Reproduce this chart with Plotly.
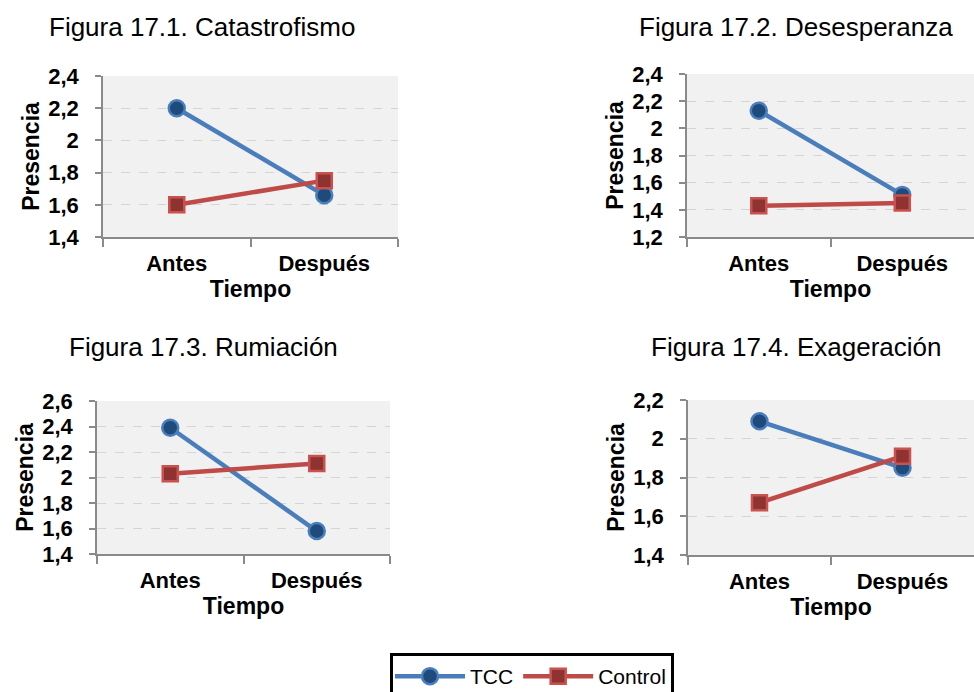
import plotly.graph_objects as go

# ---------------- data ----------------
categories = ["Antes", "Después"]

titles = [
    "Figura 17.1. Catastrofismo",
    "Figura 17.2. Desesperanza",
    "Figura 17.3. Rumiación",
    "Figura 17.4. Exageración",
]

tcc_catastrofismo = [2.20, 1.66]
control_catastrofismo = [1.60, 1.75]

tcc_desesperanza = [2.13, 1.51]
control_desesperanza = [1.43, 1.45]

tcc_rumiacion = [2.39, 1.58]
control_rumiacion = [2.03, 2.11]

tcc_exageracion = [2.09, 1.85]
control_exageracion = [1.67, 1.91]

yticks_1 = [1.4, 1.6, 1.8, 2.0, 2.2, 2.4]
yticks_2 = [1.2, 1.4, 1.6, 1.8, 2.0, 2.2, 2.4]
yticks_3 = [1.4, 1.6, 1.8, 2.0, 2.2, 2.4, 2.6]
yticks_4 = [1.4, 1.6, 1.8, 2.0, 2.2]

series_names = ["TCC", "Control"]
x_title = "Tiempo"
y_title = "Presencia"

# ---------------- layout / styling ----------------
W, H = 974, 692
panels = [
    dict(tcc=tcc_catastrofismo, ctl=control_catastrofismo, ticks=yticks_1,
         xd=[103, 398], yd=[76, 237], title_xy=(202, 27)),
    dict(tcc=tcc_desesperanza, ctl=control_desesperanza, ticks=yticks_2,
         xd=[687, 974], yd=[74, 237], title_xy=(796, 27)),
    dict(tcc=tcc_rumiacion, ctl=control_rumiacion, ticks=yticks_3,
         xd=[97, 390], yd=[401, 554], title_xy=(203, 347)),
    dict(tcc=tcc_exageracion, ctl=control_exageracion, ticks=yticks_4,
         xd=[688, 974], yd=[400, 555], title_xy=(796, 347)),
]

BLUE = "#4a7ebb"
RED = "#be4b48"
AXIS = "#8a8a8a"
FONT = "Liberation Sans"


def fmt(v):
    s = ("%.1f" % v).rstrip("0").rstrip(".")
    return s.replace(".", ",")


fig = go.Figure()
layout = dict(
    width=W, height=H,
    margin=dict(l=0, r=0, t=0, b=0, autoexpand=False),
    paper_bgcolor="white",
    font=dict(family=FONT, color="#000000"),
    showlegend=True,
    legend=dict(
        orientation="h",
        xref="container", yref="container",
        x=532 / W, xanchor="center",
        y=1 - 653 / H, yanchor="top",
        bordercolor="#000000", borderwidth=3,
        bgcolor="white",
        font=dict(family=FONT, size=21, color="#000000"),
        itemwidth=70,
    ),
    annotations=[],
)

for i, p in enumerate(panels):
    k = "" if i == 0 else str(i + 1)
    xa, ya = "x" + k, "y" + k
    fig.add_trace(go.Scatter(
        x=categories, y=p["tcc"], xaxis=xa, yaxis=ya,
        mode="lines+markers", name=series_names[0], legendgroup="tcc",
        showlegend=(i == 0),
        line=dict(color=BLUE, width=4.5),
        marker=dict(symbol="circle", size=16, color="#1f4a7c",
                    line=dict(color=BLUE, width=2.5)),
    ))
    fig.add_trace(go.Scatter(
        x=categories, y=p["ctl"], xaxis=xa, yaxis=ya,
        mode="lines+markers", name=series_names[1], legendgroup="ctl",
        showlegend=(i == 0),
        line=dict(color=RED, width=4.5),
        marker=dict(symbol="square", size=15, color="#8e3331",
                    line=dict(color="#c9514e", width=2.5)),
    ))
    t = p["ticks"]
    layout["xaxis" + k] = dict(
        domain=[p["xd"][0] / W, p["xd"][1] / W],
        anchor=ya, type="category", categoryorder="array",
        categoryarray=categories, range=[-0.5, 1.5],
        tickson="boundaries", ticks="outside", ticklen=8, tickwidth=1.5,
        tickcolor=AXIS, showline=True, linecolor=AXIS, linewidth=1.5,
        showgrid=False, zeroline=False,
        ticklabelstandoff=6,
        tickfont=dict(family=FONT, size=22, weight="bold"),
        title=dict(text=x_title, font=dict(family=FONT, size=23, weight="bold"),
                   standoff=0),
    )
    layout["yaxis" + k] = dict(
        domain=[1 - p["yd"][1] / H, 1 - p["yd"][0] / H],
        anchor=xa, range=[t[0], t[-1]],
        tickmode="array", tickvals=t, ticktext=[fmt(v) for v in t],
        ticks="outside", ticklen=6, tickwidth=1.5, tickcolor=AXIS,
        ticklabelstandoff=12,
        showline=True, linecolor=AXIS, linewidth=1.5,
        showgrid=True, gridcolor="#d4d4d4", griddash="dash", gridwidth=1,
        zeroline=False,
        tickfont=dict(family=FONT, size=22, weight="bold"),
        title=dict(text=y_title, font=dict(family=FONT, size=23, weight="bold"),
                   standoff=2),
    )
    layout["annotations"].append(dict(
        text=titles[i], xref="paper", yref="paper",
        x=p["title_xy"][0] / W, y=1 - p["title_xy"][1] / H,
        xanchor="center", yanchor="middle", showarrow=False,
        font=dict(family=FONT, size=26, color="#000000"),
    ))

layout["plot_bgcolor"] = "#f1f1f1"
fig.update_layout(**layout)
fig.write_html("out.html")
